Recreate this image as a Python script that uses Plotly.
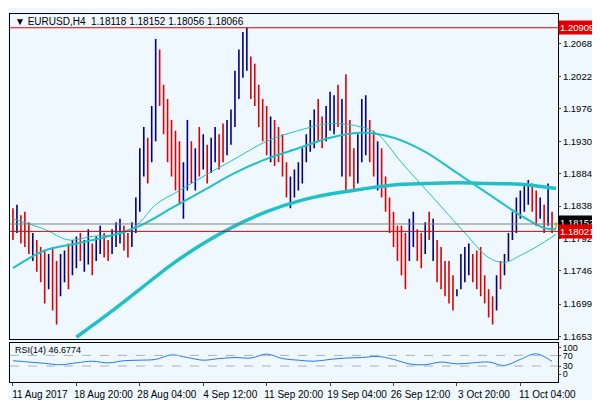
import plotly.graph_objects as go

# H4 bars
highs = [1.1835, 1.1840, 1.1825, 1.1830, 1.1815, 1.1800, 1.1790, 1.1780,
         1.1775, 1.1770, 1.1780, 1.1760, 1.1770, 1.1775, 1.1785, 1.1790,
         1.1795, 1.1800, 1.1790, 1.1805, 1.1785, 1.1795, 1.1810, 1.1800,
         1.1790, 1.1805, 1.1815, 1.1820, 1.1810, 1.1800, 1.1815,
         1.1850, 1.1920, 1.1950, 1.1935, 1.1980,
         1.2075,
         1.2060, 1.2010, 1.1990, 1.1960, 1.1945, 1.1930,
         1.1900, 1.1960, 1.1930, 1.1920, 1.1950, 1.1940, 1.1925, 1.1935,
         1.1950, 1.1940, 1.1955, 1.1960, 1.1975,
         1.2030, 1.2060, 1.2085, 1.2091, 1.2050,
         1.2040, 1.2010, 1.1990, 1.1980, 1.1965, 1.1960, 1.1950, 1.1940,
         1.1900, 1.1880, 1.1890, 1.1900, 1.1920,
         1.1940, 1.1960, 1.1975, 1.1990, 1.1965, 1.1980, 1.2000, 1.1995,
         1.2010, 1.1990, 1.2025,
         1.1960, 1.1920, 1.1940, 1.1990, 1.1995, 1.1960, 1.1945, 1.1930, 1.1920,
         1.1880, 1.1850, 1.1830, 1.1810,
         1.1810, 1.1800, 1.1820, 1.1830, 1.1805, 1.1800, 1.1815, 1.1830,
         1.1820, 1.1790,
         1.1780, 1.1760, 1.1760, 1.1740, 1.1720,
         1.1770, 1.1780, 1.1785, 1.1770, 1.1775, 1.1780,
         1.1740, 1.1720, 1.1710, 1.1740, 1.1760,
         1.1770, 1.1800, 1.1830, 1.1850, 1.1860, 1.1870, 1.1875,
         1.1870, 1.1860, 1.1850, 1.1840, 1.1870, 1.1830, 1.1815]
lows = [1.1790, 1.1800, 1.1785, 1.1780, 1.1770, 1.1760, 1.1745, 1.1730,
        1.1700, 1.1720, 1.1690, 1.1670, 1.1710, 1.1730, 1.1720, 1.1740,
        1.1750, 1.1760, 1.1745, 1.1755, 1.1740, 1.1760, 1.1770, 1.1765,
        1.1760, 1.1770, 1.1780, 1.1785, 1.1775, 1.1765, 1.1780,
        1.1800, 1.1830, 1.1880, 1.1870, 1.1900,
        1.1930,
        1.1980, 1.1940, 1.1900, 1.1880, 1.1860, 1.1840,
        1.1820, 1.1860, 1.1870, 1.1860, 1.1880, 1.1890, 1.1870, 1.1885,
        1.1900, 1.1890, 1.1900, 1.1910, 1.1925,
        1.1950, 1.1990, 1.2020, 1.2030, 1.1990,
        1.1980, 1.1950, 1.1930, 1.1910, 1.1900, 1.1895, 1.1900, 1.1880,
        1.1850, 1.1835, 1.1850, 1.1860, 1.1870,
        1.1900, 1.1915, 1.1920, 1.1930, 1.1920, 1.1930, 1.1945, 1.1940,
        1.1950, 1.1880, 1.1860,
        1.1880, 1.1860, 1.1870, 1.1900, 1.1910, 1.1900, 1.1880, 1.1860, 1.1850,
        1.1830, 1.1800, 1.1780, 1.1760,
        1.1740, 1.1720, 1.1760, 1.1780, 1.1760, 1.1750, 1.1770, 1.1790,
        1.1760, 1.1730,
        1.1720, 1.1710, 1.1700, 1.1690, 1.1710,
        1.1720, 1.1730, 1.1740, 1.1730, 1.1720, 1.1710,
        1.1700, 1.1680, 1.1670, 1.1690, 1.1720,
        1.1740, 1.1760, 1.1790, 1.1800, 1.1820, 1.1830, 1.1840,
        1.1830, 1.1810, 1.1820, 1.1800, 1.1810, 1.1800, 1.1806]
directions = ("dudddudd" "dudduudu" "uduuduudduuuddu" "uuudu" "u" "dddddd"
              "uudududuudduu" "uuuud" "dddduddd" "duuuu" "uuudduuudud"
              "dduuuddud" "dddd" "dduuddudud" "ddddu" "uuuddd" "dddud"
              "uuuuuuu" "ddududc")

ma_slow_x = [16, 24, 32, 40, 48, 56, 64, 72, 80, 88, 96, 104, 112, 120, 128, 137]
ma_slow = [1.1652, 1.1685, 1.1720, 1.1755, 1.1785, 1.1810, 1.1830, 1.1845,
           1.1855, 1.1862, 1.1868, 1.1870, 1.1871, 1.1870, 1.1869, 1.1863]
ma_mid_x = [0, 8, 16, 24, 32, 40, 48, 56, 64, 72, 80, 88, 96, 104, 112, 120,
            128, 134, 137]
ma_mid = [1.1750, 1.1775, 1.1785, 1.1795, 1.1810, 1.1835, 1.1860, 1.1885,
          1.1905, 1.1920, 1.1935, 1.1942, 1.1935, 1.1915, 1.1885, 1.1855,
          1.1825, 1.1807, 1.1805]
ma_fast_x = [0, 8, 14, 20, 28, 32, 36, 42, 48, 56, 64, 72, 80, 88, 92, 98,
             106, 114, 120, 124, 128, 132, 137]
ma_fast = [1.1820, 1.1805, 1.1790, 1.1795, 1.1800, 1.1815, 1.1840, 1.1860,
           1.1880, 1.1905, 1.1930, 1.1945, 1.1955, 1.1950, 1.1940, 1.1900,
           1.1850, 1.1800, 1.1765, 1.1758, 1.1768, 1.1780, 1.1798]

rsi_x = list(range(0, 137, 4))
rsi = [50, 45, 40, 35, 42, 48, 42, 50, 52, 55, 72, 62, 52, 58, 62, 60, 75, 58,
       52, 48, 55, 60, 62, 66, 55, 38, 35, 45, 38, 42, 45, 32, 55, 76, 47]

tick_pos = [0, 16, 32, 48, 64, 80, 96, 112, 128]
tick_text = ["11 Aug 2017", "18 Aug 20:00", "28 Aug 04:00", "4 Sep 12:00",
             "11 Sep 20:00", "19 Sep 04:00", "26 Sep 12:00", "3 Oct 20:00",
             "11 Oct 04:00"]
price_ticks = [1.20680, 1.20220, 1.19760, 1.19300, 1.18840, 1.18380,
               1.17920, 1.17460, 1.16990, 1.16530]
level_high = 1.20909
level_low = 1.18021
last_price = 1.18066
last_label = 1.18152

colors = {"u": "#000080", "d": "#e00000", "c": "#9acd32"}
FONT = "Liberation Sans"

fig = go.Figure()
for key, col in colors.items():
    xs, ys = [], []
    for i, d in enumerate(directions):
        if d == key:
            xs += [i, i, None]
            ys += [lows[i], highs[i], None]
    fig.add_trace(go.Scatter(x=xs, y=ys, mode="lines",
                             line=dict(color=col, width=1.6), hoverinfo="skip"))

for xs, ys, w in [(ma_fast_x, ma_fast, 1), (ma_mid_x, ma_mid, 2),
                  (ma_slow_x, ma_slow, 3.5)]:
    fig.add_trace(go.Scatter(x=xs, y=ys, mode="lines",
                             line=dict(color="#20c0c8", width=w, shape="spline")))

fig.add_trace(go.Scatter(x=rsi_x, y=rsi, mode="lines", xaxis="x2", yaxis="y2",
                         line=dict(color="#1e78ff", width=1, shape="spline")))

grey_level = last_price + 0.0006
for lvl, col in [(level_high, "#e00000"), (level_low, "#e00000"),
                 (grey_level, "#808080")]:
    fig.add_shape(type="line", xref="paper", x0=0, x1=1, y0=lvl, y1=lvl,
                  line=dict(color=col, width=1))
for lvl in [70, 30]:
    fig.add_shape(type="line", xref="x2 domain", yref="y2", x0=0, x1=1,
                  y0=lvl, y1=lvl, line=dict(color="#b0b0b0", width=1, dash="dash"))

for lvl, txt, bg in [(grey_level + 0.0002, last_label, "#000000"),
                     (level_low, level_low, "#e00000"),
                     (level_high, level_high, "#e00000")]:
    fig.add_annotation(xref="paper", x=1.0, y=lvl, xanchor="left",
                       text="%.5f" % txt, showarrow=False, bgcolor=bg,
                       font=dict(color="white", size=9.5, family=FONT),
                       borderpad=1)

fig.add_annotation(xref="paper", yref="paper", x=0.005, y=1.0, xanchor="left",
                   yanchor="top", showarrow=False,
                   text="▼ EURUSD,H4  1.18118 1.18152 1.18056 1.18066",
                   font=dict(size=10, family=FONT, color="black"))
fig.add_annotation(xref="paper", yref="paper", x=0.005, y=0.107, xanchor="left",
                   yanchor="top", showarrow=False, text="RSI(14) 46.6774",
                   font=dict(size=9, family=FONT, color="black"))

axis_common = dict(showgrid=False, zeroline=False, showline=True, mirror=True,
                   linecolor="black", linewidth=1)
fig.update_layout(
    width=600, height=400, showlegend=False,
    margin=dict(l=2, r=50, t=6, b=26),
    paper_bgcolor="#f0f8ff", plot_bgcolor="#f0f8ff",
    font=dict(family=FONT, size=10, color="black"),
    xaxis=dict(range=[-0.75, 137.5], domain=[0, 1], showticklabels=False,
               ticks="", anchor="y", **axis_common),
    yaxis=dict(range=[1.16501, 1.21104], domain=[0.118, 1], side="right",
               tickvals=price_ticks, ticktext=["%.5f" % v for v in price_ticks],
               ticks="outside", ticklen=2, tickfont=dict(size=9.5),
               **axis_common),
    xaxis2=dict(range=[-0.75, 137.5], domain=[0, 1], anchor="y2",
                tickvals=tick_pos, ticktext=tick_text, ticks="outside",
                ticklen=3, ticklabelshift=27, **axis_common),
    yaxis2=dict(range=[-30, 118], domain=[0, 0.107], side="right",
                tickvals=[0, 30, 70, 100], ticks="outside", ticklen=2,
                tickfont=dict(size=9), **axis_common),
)

fig.write_html("out.html")
